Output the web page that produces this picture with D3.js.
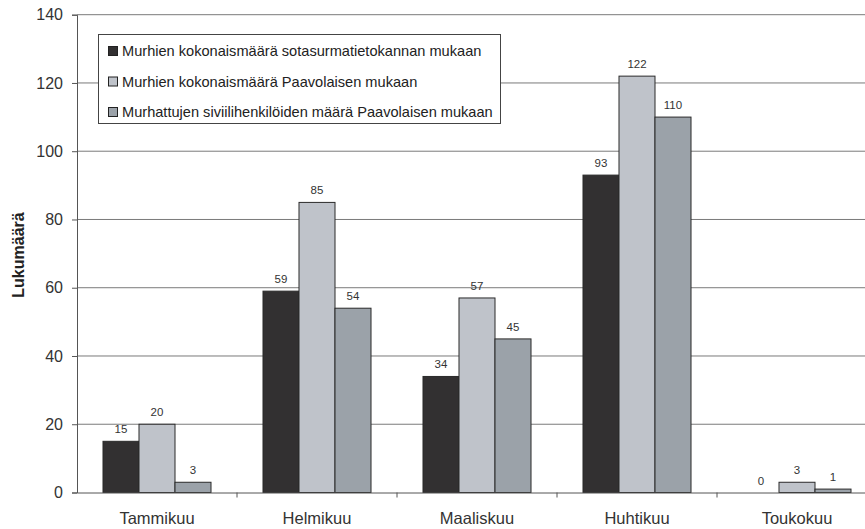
<!DOCTYPE html>
<html>
<head>
<meta charset="utf-8">
<script src="https://cdn.jsdelivr.net/npm/d3@7"></script>
<style>
  body { margin: 0; background: #fff; }
  svg { display: block; font-family: "Liberation Sans", Arial, sans-serif; }
</style>
</head>
<body>
<svg width="865" height="529"></svg>
<script>
const months = ["Tammikuu", "Helmikuu", "Maaliskuu", "Huhtikuu", "Toukokuu"];
const seriesNames = [
  "Murhien kokonaismäärä sotasurmatietokannan mukaan",
  "Murhien kokonaismäärä Paavolaisen mukaan",
  "Murhattujen siviilihenkilöiden määrä Paavolaisen mukaan"
];
const sotasurmat = [15, 59, 34, 93, 0];
const paavolainen = [20, 85, 57, 122, 3];
const siviilit = [3, 54, 45, 110, 1];
const yTicks = [0, 20, 40, 60, 80, 100, 120, 140];
const colors = ["#323031", "#bfc3ca", "#9ba2a9"];

const values = [sotasurmat, paavolainen, siviilit];

const svg = d3.select("svg");
const plotLeft = 77, plotRight = 877, plotTop = 14.7, plotBottom = 492.5;

const x0 = d3.scaleBand().domain(months).range([plotLeft, plotRight]).padding(0);
const x1 = d3.scaleBand().domain([0, 1, 2])
  .range([0, x0.bandwidth()])
  .paddingInner(0).paddingOuter(0.722);
const y = d3.scaleLinear().domain([0, 140]).range([plotBottom, plotTop]);

// gridlines
svg.append("g").selectAll("line").data(yTicks.filter(d => d > 0)).enter()
  .append("line")
  .attr("x1", plotLeft).attr("x2", plotRight)
  .attr("y1", d => y(d)).attr("y2", d => y(d))
  .attr("stroke", "#7a7a7a").attr("stroke-width", 1);

// bars
const groups = svg.append("g").selectAll("g").data(months).enter()
  .append("g")
  .attr("transform", d => `translate(${x0(d)},0)`);

groups.each(function(m, i) {
  const g = d3.select(this);
  values.forEach((vals, s) => {
    const v = vals[i];
    if (v > 0) {
      g.append("rect")
        .attr("x", x1(s))
        .attr("y", y(v))
        .attr("width", x1.bandwidth())
        .attr("height", y(0) - y(v))
        .attr("fill", colors[s])
        .attr("stroke", "#2a2a2a")
        .attr("stroke-width", 1);
    }
    g.append("text")
      .attr("x", x1(s) + x1.bandwidth() / 2)
      .attr("y", y(v) - 8)
      .attr("text-anchor", "middle")
      .attr("font-size", 11.5)
      .attr("fill", "#333")
      .text(v);
  });
});

// y axis
const yAxis = svg.append("g")
  .attr("transform", `translate(${plotLeft},0)`)
  .call(d3.axisLeft(y).tickValues(yTicks).tickSize(5).tickPadding(9));
yAxis.select(".domain").attr("stroke", "#555");
yAxis.selectAll(".tick line").attr("stroke", "#555");
yAxis.selectAll("text").attr("font-size", 16).attr("fill", "#333")
  .attr("font-family", "Liberation Sans, Arial, sans-serif");

// x axis
const xAxis = svg.append("g")
  .attr("transform", `translate(0,${plotBottom})`)
  .call(d3.axisBottom(x0).tickSize(0).tickPadding(20));
xAxis.select(".domain").attr("stroke", "#555");
xAxis.selectAll("text").attr("font-size", 16.5).attr("fill", "#333")
  .attr("font-family", "Liberation Sans, Arial, sans-serif");
svg.append("g").selectAll("line").data(months.slice(1)).enter()
  .append("line")
  .attr("x1", d => x0(d)).attr("x2", d => x0(d))
  .attr("y1", plotBottom).attr("y2", plotBottom + 5)
  .attr("stroke", "#555");

// y label
svg.append("text")
  .attr("transform", `translate(24,255) rotate(-90)`)
  .attr("text-anchor", "middle")
  .attr("font-size", 16)
  .attr("font-weight", "bold")
  .attr("fill", "#222")
  .text("Lukumäärä");

// legend
const legend = svg.append("g");
legend.append("rect")
  .attr("x", 98.5).attr("y", 34.5)
  .attr("width", 402).attr("height", 89)
  .attr("fill", "#fff").attr("stroke", "#444");
seriesNames.forEach((name, s) => {
  const cy = 51 + s * 30.5;
  legend.append("rect")
    .attr("x", 108.5).attr("y", cy - 4.5)
    .attr("width", 9).attr("height", 9)
    .attr("fill", colors[s]).attr("stroke", "#222");
  legend.append("text")
    .attr("x", 122).attr("y", cy + 5)
    .attr("font-size", 14.6)
    .attr("fill", "#222")
    .text(name);
});
</script>
</body>
</html>
